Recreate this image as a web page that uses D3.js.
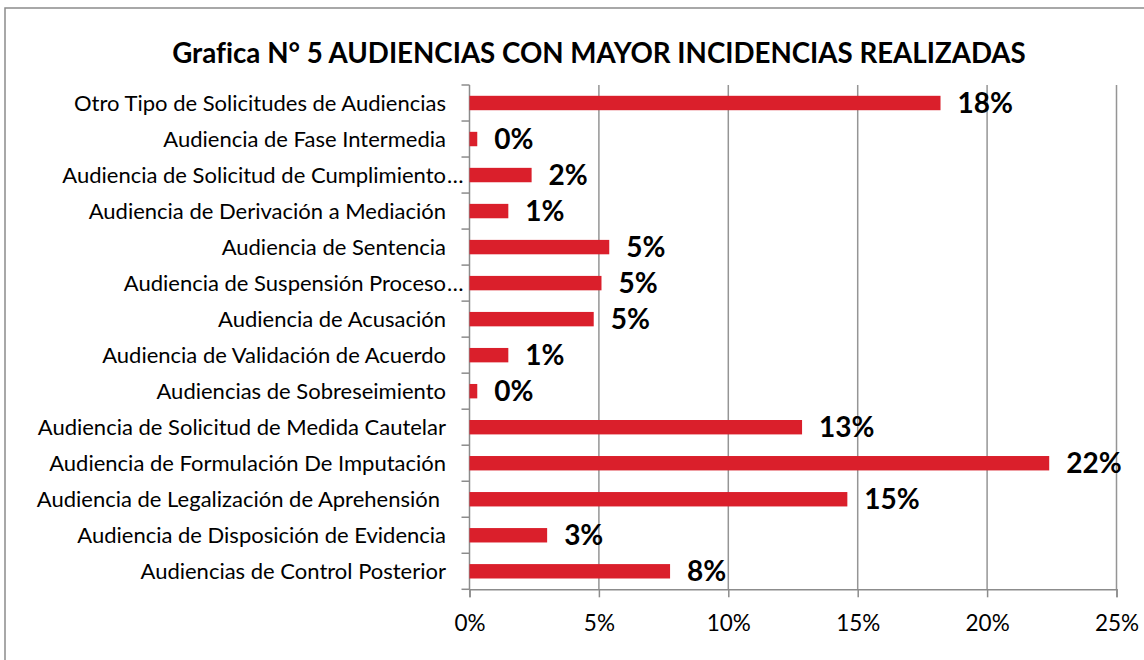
<!DOCTYPE html>
<html>
<head>
<meta charset="utf-8">
<script src="https://cdn.jsdelivr.net/npm/d3@7"></script>
<style>
  body { margin: 0; background: #fff; }
  svg { display: block; font-family: Lato, "Open Sans", sans-serif; font-variant-ligatures: none; }
</style>
</head>
<body>
<div id="chart"></div>
<script>
// Categories, top to bottom as shown
var categories = [
  'Otro Tipo de Solicitudes de Audiencias',
  'Audiencia de Fase Intermedia',
  'Audiencia de Solicitud de Cumplimiento…',
  'Audiencia de Derivación a Mediación',
  'Audiencia de Sentencia',
  'Audiencia de Suspensión Proceso…',
  'Audiencia de Acusación',
  'Audiencia de Validación de Acuerdo',
  'Audiencias de Sobreseimiento',
  'Audiencia de Solicitud de Medida Cautelar',
  'Audiencia de Formulación De Imputación',
  'Audiencia de Legalización de Aprehensión',
  'Audiencia de Disposición de Evidencia',
  'Audiencias de Control Posterior'
];

// Share of hearings, in percent
var values = [18.2, 0.3, 2.4, 1.5, 5.4, 5.1, 4.8, 1.5, 0.3, 12.85, 22.4, 14.6, 3.0, 7.75];

// Data labels as printed on the chart
var valueLabels = ['18%', '0%', '2%', '1%', '5%', '5%', '5%', '1%', '0%', '13%', '22%', '15%', '3%', '8%'];

var xTicks = [0, 5, 10, 15, 20, 25];

var title = 'Grafica N° 5 AUDIENCIAS CON MAYOR INCIDENCIAS REALIZADAS';

var width = 1144, height = 660;
var margin = {top: 85, right: 27.5, bottom: 70.7, left: 469.5};

var svg = d3.select('#chart')
  .append('svg')
    .attr('width', width)
    .attr('height', height);

// Chart border
svg.append('rect')
  .attr('x', 5)
  .attr('y', 8)
  .attr('width', width + 10)
  .attr('height', height + 10)
  .attr('fill', '#fff')
  .attr('stroke', '#8c8c8c')
  .attr('stroke-width', 1.5);

// Title
svg.append('text')
  .attr('x', 599)
  .attr('y', 63)
  .attr('text-anchor', 'middle')
  .style('font-size', '27.7px')
  .style('font-weight', 'bold')
  .attr('fill', '#000')
  .text(title);

var x = d3.scaleLinear()
  .domain([0, 25])
  .range([margin.left, width - margin.right]);

var y = d3.scaleBand()
  .domain(categories)
  .range([margin.top, height - margin.bottom])
  .paddingInner(0.6)
  .paddingOuter(0.3);

// Vertical gridlines
svg.append('g')
  .selectAll('line')
  .data(xTicks.slice(1))
  .enter()
  .append('line')
    .attr('x1', function(d) { return x(d); })
    .attr('x2', function(d) { return x(d); })
    .attr('y1', margin.top)
    .attr('y2', height - margin.bottom)
    .attr('stroke', '#959595')
    .attr('stroke-width', 1.5);

// X axis
var xAxis = d3.axisBottom(x)
  .tickValues(xTicks)
  .tickSize(8)
  .tickPadding(18)
  .tickFormat(function(d) { return d + '%'; });
var gx = svg.append('g')
  .attr('transform', 'translate(0,' + (height - margin.bottom) + ')')
  .call(xAxis);
gx.select('.domain').attr('stroke', '#8c8c8c').attr('stroke-width', 1.5);
gx.selectAll('.tick line').attr('stroke', '#8c8c8c').attr('stroke-width', 1.5);
gx.selectAll('.tick text')
  .style('font-family', 'Lato, sans-serif')
  .style('font-size', '22.5px')
  .attr('fill', '#000');

// Y axis line and ticks at category boundaries
var bounds = d3.range(categories.length + 1).map(function(i) {
  return margin.top + i * y.step();
});
svg.append('line')
  .attr('x1', margin.left).attr('x2', margin.left)
  .attr('y1', margin.top).attr('y2', height - margin.bottom)
  .attr('stroke', '#8c8c8c')
  .attr('stroke-width', 1.5);
svg.append('g')
  .selectAll('line')
  .data(bounds)
  .enter()
  .append('line')
    .attr('x1', margin.left - 8)
    .attr('x2', margin.left)
    .attr('y1', function(d) { return d; })
    .attr('y2', function(d) { return d; })
    .attr('stroke', '#8c8c8c')
    .attr('stroke-width', 1.5);

// Category labels (ellipsis hangs past the label column)
var labels = svg.append('g')
  .style('font-size', '22px')
  .attr('fill', '#000');
categories.forEach(function(c, i) {
  var cy = y(c) + y.bandwidth() / 2;
  var cut = c.slice(-1) === '…';
  labels.append('text')
    .attr('x', i === 11 ? 440 : 446)
    .attr('y', cy)
    .attr('dy', '0.35em')
    .attr('text-anchor', 'end')
    .text(cut ? c.slice(0, -1) : c);
  if (cut) {
    labels.append('text')
      .attr('x', 447)
      .attr('y', cy)
      .attr('dy', '0.35em')
      .text('…');
  }
});

// Bars
svg.append('g')
  .selectAll('rect')
  .data(values)
  .enter()
  .append('rect')
    .attr('x', x(0))
    .attr('y', function(d, i) { return y(categories[i]); })
    .attr('width', function(d) { return x(d) - x(0); })
    .attr('height', y.bandwidth())
    .attr('fill', '#da1f2b');

// Data labels
svg.append('g')
  .selectAll('text')
  .data(values)
  .enter()
  .append('text')
    .attr('x', function(d) { return x(d) + 17; })
    .attr('y', function(d, i) { return y(categories[i]) + y.bandwidth() / 2; })
    .attr('dy', '0.36em')
    .style('font-size', '28px')
    .style('font-weight', 'bold')
    .attr('fill', '#000')
    .text(function(d, i) { return valueLabels[i]; });
</script>
</body>
</html>
